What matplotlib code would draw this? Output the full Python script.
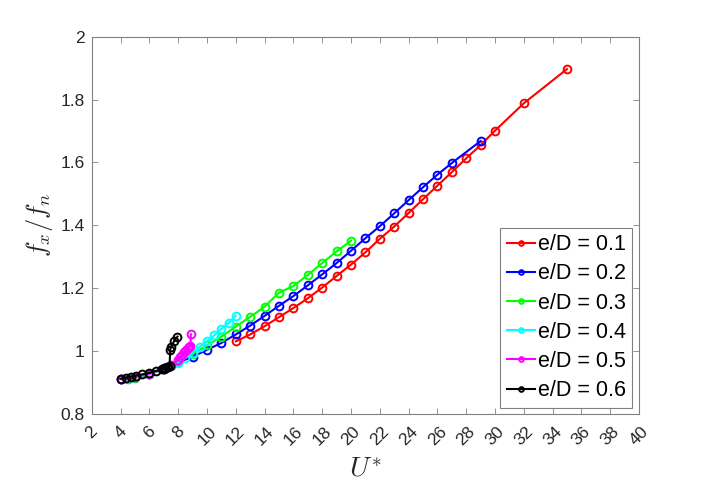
import matplotlib
matplotlib.use("Agg")
import matplotlib.pyplot as plt

plt.rcParams['font.family'] = ['Liberation Sans', 'DejaVu Sans']
plt.rcParams['mathtext.fontset'] = 'cm'

# e/D = 0.1
x1 = [12, 13, 14, 15, 16, 17, 18, 19, 20, 21, 22, 23, 24, 25, 26, 27, 28, 29, 30, 32, 35]
y1 = [1.031, 1.053, 1.079, 1.108, 1.137, 1.168, 1.202, 1.239, 1.275, 1.314, 1.357, 1.396,
      1.439, 1.483, 1.526, 1.569, 1.613, 1.655, 1.701, 1.788, 1.897]
# e/D = 0.2
x2 = [4, 5, 6, 7, 8, 9, 10, 11, 12, 13, 14, 15, 16, 17, 18, 19, 20, 21, 22, 23, 24, 25, 26, 27, 29]
y2 = [0.912, 0.918, 0.928, 0.945, 0.964, 0.982, 1.004, 1.026, 1.053, 1.081, 1.112, 1.144,
      1.175, 1.209, 1.244, 1.280, 1.319, 1.359, 1.397, 1.438, 1.480, 1.521, 1.561, 1.598, 1.668]
# e/D = 0.3
x3 = [4.5, 5, 6, 7, 8, 9, 10, 11, 12, 13, 14, 15, 16, 17, 18, 19, 20]
y3 = [0.912, 0.915, 0.926, 0.943, 0.966, 0.991, 1.018, 1.046, 1.078, 1.109, 1.141, 1.186,
      1.207, 1.242, 1.280, 1.317, 1.351]
# e/D = 0.4
x4 = [4.5, 5, 6, 7, 7.5, 8, 8.5, 9, 9.5, 10, 10.5, 11, 11.5, 12]
y4 = [0.913, 0.917, 0.927, 0.943, 0.952, 0.963, 0.978, 0.995, 1.014, 1.031, 1.050, 1.071,
      1.089, 1.113]
# e/D = 0.5
x5 = [4, 5, 6, 7, 7.5, 8, 8.15, 8.3, 8.43, 8.55, 8.65, 8.75, 8.85, 8.88]
y5 = [0.911, 0.918, 0.928, 0.944, 0.955, 0.972, 0.980, 0.989, 0.998, 1.004, 1.009, 1.014,
      1.017, 1.054]
# e/D = 0.6
x6 = [4.0, 4.35, 4.7, 5.05, 5.5, 6.0, 6.45, 6.9, 7.0, 7.1, 7.2, 7.3, 7.4, 7.45, 7.5, 7.72, 7.95]
y6 = [0.912, 0.916, 0.919, 0.922, 0.926, 0.931, 0.937, 0.942, 0.944, 0.946, 0.948, 0.950,
      0.953, 1.005, 1.013, 1.032, 1.046]

series = [(x1, y1, 'e/D = 0.1', (1, 0, 0)),
          (x2, y2, 'e/D = 0.2', (0, 0, 1)),
          (x3, y3, 'e/D = 0.3', (0, 1, 0)),
          (x4, y4, 'e/D = 0.4', (0, 1, 1)),
          (x5, y5, 'e/D = 0.5', (1, 0, 1)),
          (x6, y6, 'e/D = 0.6', (0, 0, 0))]

xticks = list(range(2, 41, 2))
yticks = [0.8, 1.0, 1.2, 1.4, 1.6, 1.8, 2.0]
yticklabels = ['0.8', '1', '1.2', '1.4', '1.6', '1.8', '2']

fig = plt.figure(figsize=(7.06, 4.84), dpi=100)
ax = fig.add_axes([0.130, 0.1446, 0.775, 0.7796])

for x, y, lab, c in series:
    ax.plot(x, y, '-o', color=c, lw=1.5, ms=5.6, mfc='none', mew=1.4, label=lab)

ax.set_xlim(2, 40)
ax.set_ylim(0.8, 2.0)
ax.set_xticks(xticks)
ax.set_xticklabels([str(t) for t in xticks], rotation=45, ha='center', va='top')
ax.set_yticks(yticks)
ax.set_yticklabels(yticklabels)

axcol = (0.15, 0.15, 0.15)
for s in ax.spines.values():
    s.set_color((0.5, 0.5, 0.5))
    s.set_linewidth(0.8)
ax.tick_params(direction='in', top=True, right=True, length=4.5, width=0.6,
               color=(0.5, 0.5, 0.5), labelcolor=axcol, labelsize=12.5)
ax.tick_params(axis='x', pad=7)
ax.tick_params(axis='y', pad=5)

ax.set_xlabel(r'$U^{*}$', fontsize=20, color=axcol, labelpad=6)
ax.set_ylabel(r'$f_x/f_n$', fontsize=19, color=axcol, labelpad=4)

leg = ax.legend(loc='lower right', fontsize=15.5, frameon=True, fancybox=False,
                edgecolor=(0.5, 0.5, 0.5), framealpha=1, borderaxespad=0.3,
                handlelength=1.3, handletextpad=0.15, labelspacing=0.38,
                borderpad=0.3, markerscale=0.6)
leg.get_frame().set_linewidth(0.8)

fig.savefig('out.png', dpi=100)
